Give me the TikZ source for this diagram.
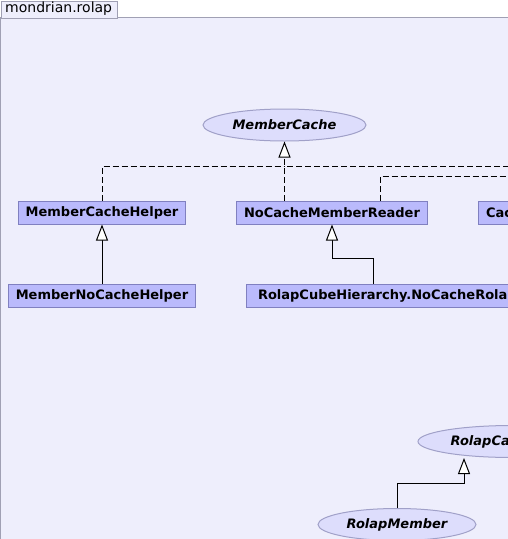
\documentclass[tikz,border=0pt]{standalone}
\usepackage{fontspec}
\setmainfont{DejaVu Sans}
\usetikzlibrary{arrows.meta,shapes.geometric}
\definecolor{panelbg}{RGB}{238,238,252}
\definecolor{panelline}{RGB}{160,160,180}
\definecolor{boxfill}{RGB}{186,186,252}
\definecolor{boxline}{RGB}{128,128,192}
\definecolor{ellfill}{RGB}{221,221,252}
\definecolor{ellline}{RGB}{160,160,200}
\tikzset{
  classbox/.style={draw=boxline, fill=boxfill, line width=1pt, minimum height=23pt,
    inner xsep=7.5pt, inner ysep=0pt, font=\fontsize{13}{15}\selectfont\bfseries},
  iface/.style={ellipse, draw=ellline, fill=ellfill, line width=1pt, inner sep=0pt,
    font=\fontsize{13}{15}\selectfont\bfseries\itshape},
  realizes/.style={draw=black, line width=1pt, dash pattern=on 6pt off 3pt,
    -{Triangle[length=16pt,width=12pt,fill=white]}},
  extends/.style={draw=black, line width=1pt,
    -{Triangle[length=16pt,width=12pt,fill=white]}},
  plainline/.style={draw=black, line width=1pt, dash pattern=on 6pt off 3pt},
}
\begin{document}
\begin{tikzpicture}[x=1pt,y=-1pt]
\useasboundingbox (0,0) rectangle (508,539);
\clip (0,0) rectangle (508,539);
% panel and tab
\fill[white] (0,0) rectangle (508,539);
\path[fill=panelbg, draw=panelline, line width=1pt] (0.5,17) rectangle (560,600);
\node[draw=panelline, fill=panelbg, line width=1pt, anchor=north west, minimum width=116.5pt,
  minimum height=17pt, inner sep=0pt] (tab) at (0.5,0.5) {};
\node[anchor=west, inner sep=0pt, font=\fontsize{14}{16}\selectfont] (tabtext) at (5,8.5) {mondrian.rolap};
% interfaces
\node[iface, minimum width=163pt, minimum height=32pt] (mc) at (284.5,125) {MemberCache};
\node[iface, minimum width=188pt, minimum height=32pt] (rc) at (512,441.5) {RolapCalculation};
\node[iface, minimum width=158pt, minimum height=32pt] (rm) at (397,524.5) {RolapMember};
% classes
\node[classbox] (mch) at (102,212.5) {MemberCacheHelper};
\node[classbox] (ncmr) at (332,212.5) {NoCacheMemberReader};
\node[classbox, anchor=west] (cmr) at (478,212.5) {CacheMemberReader};
\node[classbox] (mnch) at (102,295.5) {MemberNoCacheHelper};
\node[classbox, anchor=west, inner xsep=11.5pt] (rch) at (246,295.5) {RolapCubeHierarchy.NoCacheRolapCubeHierarchyMemberReader};
% junctions
\coordinate (j1) at (284.5,166);
\coordinate (j2) at (380,176);
\coordinate (offr) at (560,176);
\coordinate (j3) at (373,258);
\coordinate (j4) at (332,258);
\coordinate (j5) at (397,483);
\coordinate (j6) at (464,483);
% connectors
\draw[plainline] (mch.north) |- (j1);
\draw[plainline] (cmr.north) |- (j1);
\draw[realizes] (ncmr.north -| j1) -- (mc.south);
\draw[plainline] (ncmr.north -| j2) -- (j2) -- (offr);
\draw[extends] (mnch.north) -- (mch.south);
\draw[extends] (rch.north -| j3) -- (j3) -- (j4) -- (ncmr.south);
\draw[extends] (rm.north -| j5) -- (j5) -- (j6) -- (rc.south -| j6);
\end{tikzpicture}
\end{document}
